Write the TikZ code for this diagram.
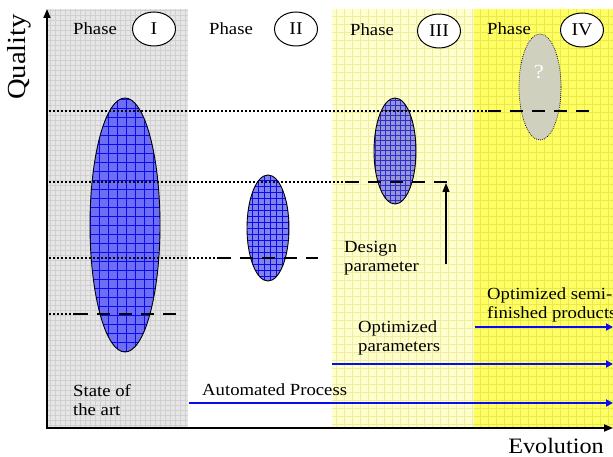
\documentclass[tikz,border=0pt]{standalone}
\usepackage{fontspec}
\setmainfont{Liberation Serif}[FakeStretch=1.1]
\usetikzlibrary{arrows.meta,shapes.geometric}
\definecolor{bgI}{RGB}{230,230,230}
\definecolor{gridI}{RGB}{208,208,208}
\definecolor{bgIII}{RGB}{255,255,205}
\definecolor{gridIII}{RGB}{238,238,160}
\definecolor{bgIV}{RGB}{255,255,100}
\definecolor{gridIV}{RGB}{232,232,80}
\definecolor{ellA}{RGB}{110,110,245}
\definecolor{ellB}{RGB}{130,130,235}
\definecolor{ellC}{RGB}{150,150,215}
\definecolor{ellD}{RGB}{208,208,190}
\definecolor{bl}{RGB}{10,10,240}
\tikzset{
  txt/.style={font=\fontsize{17}{19}\selectfont, inner sep=0pt, align=left},
  numcirc/.style={draw, line width=1pt, shape=ellipse, fill=white, minimum width=43pt, minimum height=34pt, inner sep=0pt, font=\fontsize{18}{20}\selectfont},
  dotline/.style={line width=1.7pt, dash pattern=on 1.7pt off 2.3pt},
  dashline/.style={line width=2.8pt, dash pattern=on 13pt off 9pt},
  bluearrow/.style={draw=bl, line width=2.2pt, -{Triangle[length=7pt,width=7pt]}},
  axis/.style={line width=1.8pt, -{Triangle[length=9pt,width=7pt]}},
}
\begin{document}
\begin{tikzpicture}[x=1pt,y=-1pt]
\useasboundingbox (0,0) rectangle (613,457);
% backgrounds
\fill[bgI] (47,9) rectangle (188,428);
\draw[gridI, line width=0.5pt, step=5pt] (47,9) grid (188,428);
\fill[bgIII] (332,9) rectangle (474,428);
\draw[gridIII, line width=0.6pt, step=8pt] (332,9) grid (474,428);
\fill[bgIV] (474,9) rectangle (613,428);
\draw[gridIV, line width=0.6pt, step=8pt] (474,9) grid (613,428);
% ellipses
\begin{scope}
\clip (125,225) ellipse [x radius=35, y radius=127];
\fill[ellA] (90,98) rectangle (160,352);
\draw[bl, line width=0.6pt, step=9pt] (88,96) grid (162,354);
\end{scope}
\draw[line width=0.9pt] (125,225) ellipse [x radius=35, y radius=127];
\begin{scope}
\clip (268,228) ellipse [x radius=21, y radius=53];
\fill[ellB] (247,175) rectangle (289,281);
\draw[bl, line width=0.5pt, step=6pt] (245,173) grid (291,283);
\end{scope}
\draw[line width=0.9pt] (268,228) ellipse [x radius=21, y radius=53];
\begin{scope}
\clip (395,151) ellipse [x radius=21, y radius=53];
\fill[ellC] (374,98) rectangle (416,204);
\draw[bl!70!gray, line width=0.5pt, step=5pt] (372,96) grid (418,206);
\end{scope}
\draw[line width=0.9pt] (395,151) ellipse [x radius=21, y radius=53];
\fill[ellD] (540,87) ellipse [x radius=21, y radius=53];
\draw[line width=0.7pt, dash pattern=on 0.8pt off 1.2pt] (540,87) ellipse [x radius=21, y radius=53];
\node[txt, text=white, font=\fontsize{20}{22}\selectfont] (q) at (539,72) {?};
% level lines
\coordinate (l1a) at (49,111); \coordinate (l1b) at (488,111); \coordinate (l1c) at (590,111);
\coordinate (l2a) at (49,182); \coordinate (l2b) at (346,182); \coordinate (l2c) at (447,182);
\coordinate (l3a) at (49,258); \coordinate (l3b) at (218,258); \coordinate (l3c) at (318,258);
\coordinate (l4a) at (49,314); \coordinate (l4b) at (75,314);  \coordinate (l4c) at (176,314);
\draw[dotline] (l1a) -- (l1b); \draw[dashline] (l1b) -- (l1c);
\draw[dotline] (l2a) -- (l2b); \draw[dashline] (l2b) -- (l2c);
\draw[dotline] (l3a) -- (l3b); \draw[dashline] (l3b) -- (l3c);
\draw[dotline] (l4a) -- (l4b); \draw[dashline] (l4b) -- (l4c);
% design parameter arrow
\coordinate (dpA) at (446,264);
\coordinate (dpB) at (446,183);
\draw[line width=1.2pt, -{Triangle[length=9pt,width=7pt]}] (dpA) -- (dpB);
% phase labels
\node[txt, anchor=base west] (p1) at (73,35) {Phase};
\node[txt, anchor=base west] (p2) at (209,35) {Phase};
\node[txt, anchor=base west] (p3) at (350,36) {Phase};
\node[txt, anchor=base west] (p4) at (487,35) {Phase};
\node[numcirc] (c1) at (154,29) {I};
\node[numcirc] (c2) at (296,29) {II};
\node[numcirc] (c3) at (439,31) {III};
\node[numcirc] (c4) at (582,30) {IV};
% blue arrows
\coordinate (b1a) at (475,327); \coordinate (b1b) at (613,327);
\coordinate (b2a) at (332,364); \coordinate (b2b) at (613,364);
\coordinate (b3a) at (189,403); \coordinate (b3b) at (613,403);
\draw[bluearrow] (b1a) -- (b1b);
\draw[bluearrow] (b2a) -- (b2b);
\draw[bluearrow] (b3a) -- (b3b);
% texts (anchor base = last line)
\node[txt, anchor=base west] (t1) at (73,415) {State of\\the art};
\node[txt, anchor=base west] (t2) at (202,395) {Automated Process};
\node[txt, anchor=base west] (t3) at (344,271) {Design\\parameter};
\node[txt, anchor=base west] (t4) at (358,351) {Optimized\\parameters};
\node[txt, anchor=base west] (t5) at (487,318) {Optimized semi-\\finished products};
% axes
\coordinate (o) at (47,428);
\coordinate (ytop) at (47,9);
\coordinate (xend) at (613,428);
\draw[axis] (o) -- (ytop);
\draw[axis] ([xshift=-0.9pt]o) -- (xend);
\node[txt, font=\fontsize{26}{28}\selectfont, rotate=90] (ql) at (19,57) {Quality};
\node[txt, font=\fontsize{22}{24}\selectfont, anchor=base] (ev) at (556,453) {Evolution};
\end{tikzpicture}
\end{document}
